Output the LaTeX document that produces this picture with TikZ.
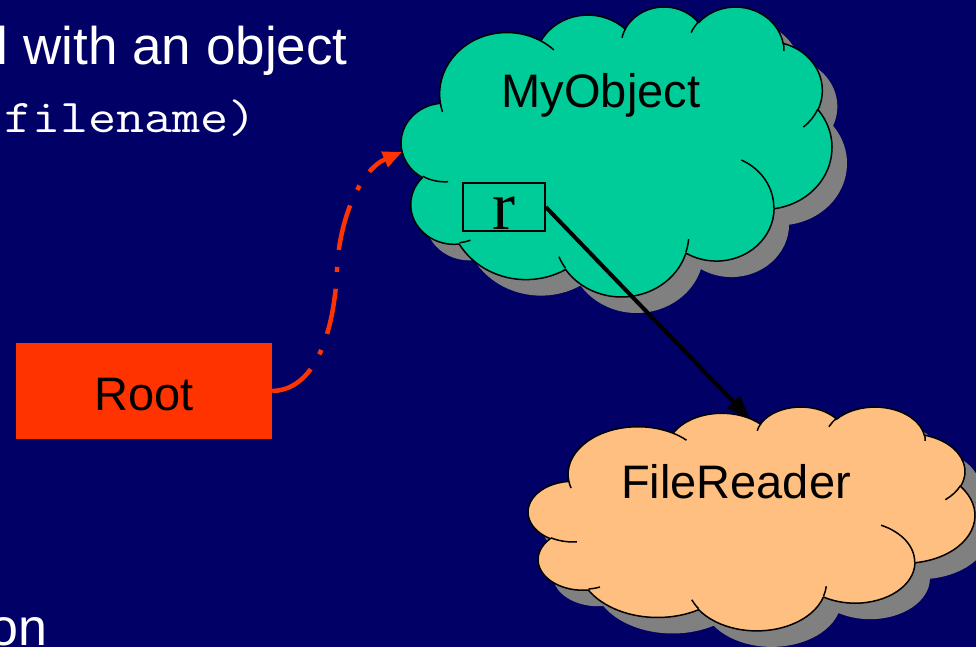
\documentclass[tikz,border=0pt]{standalone}
\usepackage{fontspec}
\setmainfont{Liberation Sans}
\newfontfamily\monofont[FakeStretch=1.16]{Latin Modern Mono}
\newfontfamily\seriffont{Liberation Serif}
\usetikzlibrary{arrows.meta}

\definecolor{slidebg}{RGB}{0,0,102}
\definecolor{objgreen}{RGB}{0,204,153}
\definecolor{readerorange}{RGB}{255,191,128}
\definecolor{rootred}{RGB}{255,51,0}
\definecolor{shadowgray}{RGB}{128,128,128}

% Elliptical arc from the current point: radii, start angle and sweep,
% with the angles measured geometrically (converted to parametric ones).
\newcommand\ooarc[4]{%
  \pgfextra{%
    \pgfmathsetmacro\ooa{atan2((#1)*sin(#3),(#2)*cos(#3))}%
    \pgfmathsetmacro\oob{atan2((#1)*sin((#3)+(#4)),(#2)*cos((#3)+(#4)))}%
    \pgfmathsetmacro\oob{\oob+360*(((#4)>0)*(\oob<\ooa)-((#4)<0)*(\oob>\ooa))}%
    \xdef\ooa{\ooa}\xdef\oob{\oob}}%
  arc[start angle=\ooa, end angle=\oob, x radius=#1, y radius=#2]}

% Cloud outline on a 432 x 432 grid
\def\cloudoutline{(39.00,143.70)
  \ooarc{67.53}{91.90}{-190.4875}{123.7805}
  \ooarc{53.33}{72.67}{-144.1024}{89.9452}
  \ooarc{43.65}{59.45}{-145.8079}{99.7230}
  \ooarc{48.57}{65.95}{-130.9861}{117.2417}
  \ooarc{53.33}{72.73}{-78.7089}{109.0269}
  \ooarc{67.75}{92.20}{-46.2673}{130.2690}
  \ooarc{57.85}{78.67}{0.6250}{114.0333}
  \ooarc{67.52}{92.15}{22.4516}{115.1726}
  \ooarc{77.20}{105.43}{66.2426}{75.7110}
  \ooarc{43.60}{59.18}{-274.9421}{146.7356}
  \ooarc{43.45}{59.45}{-246.8285}{152.5189} -- cycle}

% Short inner strokes where the puffs meet
\def\cloudcreases{
  (46.93,261.77) \ooarc{43.45}{59.45}{86.7420}{26.4295}
  (69.28,348.99) \ooarc{43.60}{59.18}{73.6105}{11.4475}
  (164.78,390.90) \ooarc{67.52}{92.15}{137.6242}{14.0811}
  (288.27,347.51) \ooarc{67.52}{92.15}{6.4533}{15.9984}
  (341.29,229.54) \ooarc{57.85}{78.67}{-70.2924}{70.9174}
  (417.98,153.54) \ooarc{53.33}{72.73}{30.3180}{27.7515}
  (383.24,54.26) \ooarc{48.57}{65.95}{-13.7443}{14.8589}
  (290.78,39.52) \ooarc{48.57}{65.95}{-149.1815}{18.1954}
  (221.41,47.20) \ooarc{43.65}{59.45}{-163.4943}{17.6864}
  (140.00,51.92) \ooarc{67.53}{91.90}{-66.7070}{12.3194}
  (41.27,157.89) \ooarc{67.53}{91.90}{157.6544}{11.8582}}

% cloud with drop shadow: left, top, x scale, y scale, fill colour
\newcommand\slidecloud[5]{%
  \begin{scope}[shift={(#1+15,#2+16)},xscale=#3,yscale=#4]
    \fill[shadowgray] \cloudoutline;
  \end{scope}
  \begin{scope}[shift={(#1,#2)},xscale=#3,yscale=#4]
    \filldraw[fill=#5,cloudline] \cloudoutline;
    \draw[cloudline] \cloudcreases;
  \end{scope}}

\tikzset{
  cloudline/.style={draw=black, line width=1.5pt, line join=round},
  slidetext/.style={inner sep=0pt, text=white},
  labeltext/.style={inner sep=0pt, text=black, font=\fontsize{47}{56}\selectfont},
  redarrow/.style={draw=rootred, line width=4.5pt,
    dash pattern=on 46pt off 17pt on 5pt off 17pt,
    -{Triangle[length=19pt,width=16pt]}},
  blackarrow/.style={draw=black, line width=4pt,
    -{Triangle[length=24pt,width=17pt]}}
}

\begin{document}
\begin{tikzpicture}[x=1pt,y=-1pt]
  \useasboundingbox (0,0) rectangle (976,647);
  \fill[slidebg] (0,0) rectangle (976,647);
  \clip (0,0) rectangle (976,647);

  % heading lines
  \node[slidetext, anchor=base west, font=\fontsize{53}{63}\selectfont]
    (heading) at (-3.2,65) {l with an object};
  \node[slidetext, anchor=base west, font=\monofont\fontsize{47}{56}\selectfont]
    (code) at (4,133) {filename)};
  \node[slidetext, anchor=base west, font=\fontsize{52}{62}\selectfont]
    (tail) at (-11,645) {on};

  % clouds
  \slidecloud{401.4}{6.05}{0.9963}{0.671}{objgreen}
  \slidecloud{528.4}{406.3}{1.0333}{0.518}{readerorange}

  \node[labeltext, anchor=base] (myobject) at (601,108) {MyObject};
  \node[labeltext, anchor=base] (filereader) at (736,498) {FileReader};

  % reference field inside the object
  \node[draw=black, line width=1.5pt, minimum width=82pt, minimum height=48pt,
        inner sep=0pt, text height=44pt, text depth=0pt,
        font=\seriffont\fontsize{69}{80}\selectfont] (rbox) at (504,207) {r};

  % root
  \node[fill=rootred, minimum width=256pt, minimum height=96pt, inner sep=0pt,
        text height=38pt, text depth=0pt, font=\fontsize{47}{56}\selectfont]
    (root) at (144,391) {Root};

  \coordinate (objleft) at (402,152);
  \coordinate (readertop) at (750,419);

  \draw[redarrow] (root.east) .. controls (320,390) and (335,320) .. (337,270)
    .. controls (339,220) and (360,170) .. (objleft);
  \draw[blackarrow] (rbox.east) -- (readertop);
\end{tikzpicture}
\end{document}
